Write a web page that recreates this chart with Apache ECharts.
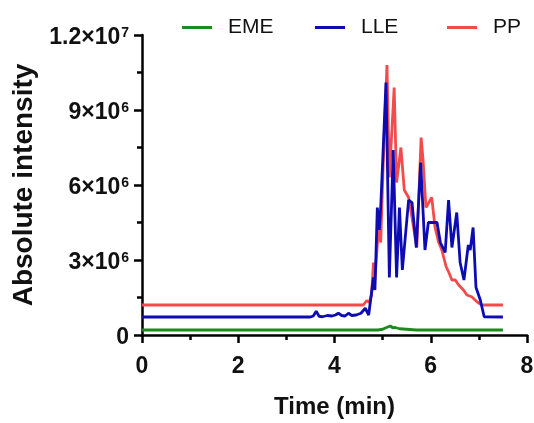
<!DOCTYPE html>
<html>
<head>
<meta charset="utf-8">
<script src="https://cdn.jsdelivr.net/npm/echarts@6/dist/echarts.min.js"></script>
<style>html,body{margin:0;padding:0;background:#fff;}#c{width:534px;height:423px;}</style>
</head>
<body>
<div id="c"></div>
<script>
// ---- data (time in min, intensity in counts) ----
const emeTime  = [0, 4.9, 5.0, 5.08, 5.16, 5.21, 5.26, 5.35, 5.5, 5.7, 7.5];
const emeValue = [2.0e5, 2.0e5, 2.3e5, 3.0e5, 3.6e5, 2.9e5, 3.0e5, 2.5e5, 2.3e5, 2.0e5, 2.0e5];

const lleTime  = [0, 3.5, 3.56, 3.62, 3.68, 3.75, 3.85, 3.95, 4.02, 4.08, 4.15, 4.22, 4.29, 4.36, 4.45, 4.55, 4.64, 4.71, 4.77,
                  4.81, 4.84, 4.89, 4.93, 4.96, 5.00, 5.07, 5.14, 5.22, 5.29, 5.35, 5.41, 5.54, 5.61, 5.70, 5.79, 5.88, 5.95,
                  6.13, 6.20, 6.30, 6.37, 6.44, 6.54, 6.61, 6.69, 6.78, 6.82, 6.88, 6.94, 7.03, 7.11, 7.5];
const lleValue = [7.2e5, 7.2e5, 7.6e5, 9.5e5, 7.5e5, 7.3e5, 7.8e5, 7.6e5, 8.0e5, 8.7e5, 7.8e5, 7.6e5, 8.7e5, 7.8e5, 8.0e5, 8.7e5, 1.07e6, 8.0e5, 1.7e6,
                  2.3e6, 1.8e6, 5.1e6, 4.2e6, 5.1e6, 6.9e6, 1.01e7, 2.3e6, 7.4e6, 2.3e6, 5.1e6, 2.6e6, 5.4e6, 5.3e6, 3.5e6, 6.9e6, 3.4e6, 4.5e6,
                  4.5e6, 3.7e6, 3.3e6, 5.4e6, 3.5e6, 4.9e6, 2.9e6, 2.2e6, 3.6e6, 3.4e6, 4.3e6, 1.9e6, 1.4e6, 7.3e5, 7.2e5];

const ppTime   = [0, 4.6, 4.67, 4.72, 4.77, 4.81, 4.84, 4.91, 4.96, 5.01, 5.09, 5.14, 5.24, 5.29, 5.38, 5.45, 5.54, 5.61, 5.71,
                  5.80, 5.84, 5.90, 6.02, 6.09, 6.16, 6.23, 6.32, 6.37, 6.44, 6.51, 6.58, 6.68, 6.75, 6.85, 6.96, 7.06, 7.5];
const ppValue  = [1.2e6, 1.2e6, 1.38e6, 1.3e6, 1.6e6, 2.9e6, 2.2e6, 4.2e6, 3.7e6, 6.7e6, 1.08e7, 6.3e6, 9.9e6, 6.1e6, 7.5e6, 5.8e6, 5.5e6, 4.7e6, 3.5e6,
                  7.9e6, 7.0e6, 5.1e6, 5.5e6, 4.3e6, 3.73e6, 3.4e6, 2.73e6, 2.53e6, 2.2e6, 2.2e6, 2.0e6, 1.8e6, 1.6e6, 1.53e6, 1.33e6, 1.2e6, 1.2e6];

const seriesNames  = ['EME', 'LLE', 'PP'];
const yTickValues  = [0, 3e6, 6e6, 9e6, 1.2e7];
const yTickTexts   = ['0', '3×10^6', '6×10^6', '9×10^6', '1.2×10^7'];
const xTitle = 'Time (min)';
const yTitle = 'Absolute intensity';

const colors = {EME: '#1c8a1c', LLE: '#0c0cb2', PP: '#f34b4b'};
const zip = (a, b) => a.map((t, i) => [t, b[i]]);

const chart = echarts.init(document.getElementById('c'), null, {renderer: 'canvas'});
const FONT = '"Liberation Sans", Arial, sans-serif';

function yLabel(v) {
  const i = yTickValues.findIndex(t => Math.abs(t - v) < 1);
  if (i < 0) return '';
  const s = yTickTexts[i];
  if (s.indexOf('^') < 0) return '{n|' + s + '}';
  const p = s.split('^');
  return '{n|' + p[0] + '}{s|' + p[1] + '}';
}

const legendLeft = [177, 310, 442];
const legends = seriesNames.map((n, i) => ({
  data: [n], left: legendLeft[i], top: 12, icon: 'rect', itemWidth: 30, itemHeight: 3,
  selectedMode: false,
  textStyle: {fontFamily: FONT, fontSize: 21, color: '#111', padding: [0, 0, 0, 11]}
}));

const mkSeries = (name, t, v, z) => ({
  name, type: 'line', data: zip(t, v), showSymbol: false, symbol: 'none',
  lineStyle: {color: colors[name], width: 2.8}, itemStyle: {color: colors[name]}, z, animation: false
});

chart.setOption({
  animation: false,
  legend: legends,
  grid: {left: 142, right: 7, top: 35, bottom: 88, containLabel: false, outerBoundsMode: 'none'},
  xAxis: {
    type: 'value', min: 0, max: 8, interval: 2,
    name: xTitle, nameLocation: 'middle', nameGap: 60,
    nameTextStyle: {fontFamily: FONT, fontSize: 24, fontWeight: 'bold', color: '#111'},
    axisLine: {show: true, lineStyle: {color: '#000', width: 2.5}},
    axisTick: {show: true, inside: false, length: 8, lineStyle: {color: '#000', width: 2.5}},
    minorTick: {show: true, splitNumber: 2, length: 5, lineStyle: {color: '#000', width: 2.5}},
    splitLine: {show: false}, minorSplitLine: {show: false},
    axisLabel: {fontFamily: FONT, fontSize: 23, fontWeight: 'bold', color: '#111', margin: 20}
  },
  yAxis: {
    type: 'value', min: 0, max: 1.2e7, interval: 3e6,
    name: yTitle, nameLocation: 'middle', nameGap: 102, nameRotate: 90,
    nameTextStyle: {fontFamily: FONT, fontSize: 28, fontWeight: 'bold', color: '#111'},
    axisLine: {show: true, lineStyle: {color: '#000', width: 2.5}},
    axisTick: {show: true, inside: false, length: 8, lineStyle: {color: '#000', width: 2.5}},
    minorTick: {show: true, splitNumber: 2, length: 5, lineStyle: {color: '#000', width: 2.5}},
    splitLine: {show: false}, minorSplitLine: {show: false},
    axisLabel: {
      margin: 13, formatter: yLabel, padding: [6, 0, 0, 0],
      rich: {
        n: {fontFamily: FONT, fontSize: 23, fontWeight: 'bold', color: '#111'},
        s: {fontFamily: FONT, fontSize: 14, fontWeight: 'bold', color: '#111', padding: [0, 0, 10, 1]}
      }
    }
  },
  series: [
    mkSeries('EME', emeTime, emeValue, 2),
    mkSeries('PP', ppTime, ppValue, 3),
    mkSeries('LLE', lleTime, lleValue, 4)
  ]
});
</script>
</body>
</html>
